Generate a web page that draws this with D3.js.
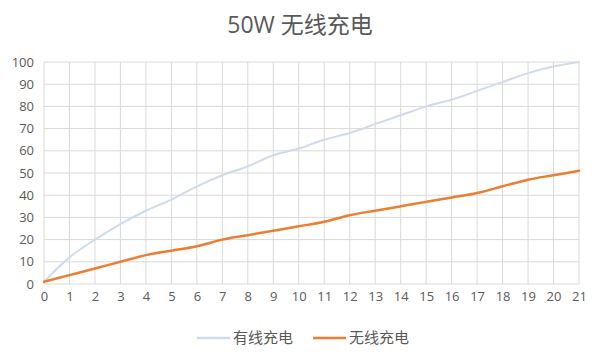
<!DOCTYPE html>
<html>
<head>
<meta charset="utf-8">
<script src="https://cdn.jsdelivr.net/npm/d3@7"></script>
<style>
  body { margin: 0; background: #fff; }
  svg { display: block; font-family: "Open Sans", "Noto Sans CJK SC", sans-serif; }
</style>
</head>
<body>
<div id="chart"></div>
<script>
const minutes = d3.range(0, 22);
const wired = [1, 12, 20, 27, 33, 38, 44, 49, 53, 58, 61, 65, 68, 72, 76, 80, 83, 87, 91, 95, 98, 100];
const wireless = [1, 4, 7, 10, 13, 15, 17, 20, 22, 24, 26, 28, 31, 33, 35, 37, 39, 41, 44, 47, 49, 51];
const yTicks = d3.range(0, 101, 10);
const seriesNames = ["有线充电", "无线充电"];
const colors = ["#cfdbeb", "#ed7d31"];

(function() {
  const width = 600, height = 355;
  const margin = { top: 62, right: 21, bottom: 71, left: 44 };
  const innerW = width - margin.left - margin.right;
  const innerH = height - margin.top - margin.bottom;

  const svg = d3.select("#chart").append("svg")
    .attr("width", width).attr("height", height);

  svg.append("text")
    .attr("x", 300).attr("y", 33)
    .attr("text-anchor", "middle")
    .attr("font-size", "23px")
    .attr("fill", "#595959")
    .text("50W 无线充电");

  const g = svg.append("g").attr("transform", `translate(${margin.left},${margin.top})`);

  const x = d3.scaleLinear().domain([0, 21]).range([0, innerW]);
  const y = d3.scaleLinear().domain([0, 100]).range([innerH, 0]);

  // grid
  g.append("g").selectAll("line").data(yTicks).join("line")
    .attr("x1", 0).attr("x2", innerW)
    .attr("y1", d => y(d)).attr("y2", d => y(d))
    .attr("stroke", "#d9d9d9").attr("stroke-width", 1);
  g.append("g").selectAll("line").data(minutes).join("line")
    .attr("x1", d => x(d)).attr("x2", d => x(d))
    .attr("y1", 0).attr("y2", innerH)
    .attr("stroke", "#d9d9d9").attr("stroke-width", 1);

  // axes
  const yAxis = g.append("g").call(d3.axisLeft(y).tickValues(yTicks).tickSize(0).tickPadding(10));
  const xAxis = g.append("g").attr("transform", `translate(0,${innerH})`)
    .call(d3.axisBottom(x).tickValues(minutes).tickSize(0).tickPadding(8));
  [xAxis, yAxis].forEach(a => {
    a.select(".domain").remove();
    a.selectAll("text").attr("fill", "#595959").attr("font-size", "13px")
      .attr("font-family", "Open Sans, sans-serif");
  });

  const line = d3.line().x((d, i) => x(minutes[i])).y(d => y(d)).curve(d3.curveCatmullRom);
  [wired, wireless].forEach((s, i) => {
    g.append("path").datum(s)
      .attr("fill", "none")
      .attr("stroke", colors[i])
      .attr("stroke-width", i === 0 ? 2 : 2.5)
      .attr("stroke-linecap", "round")
      .attr("d", line);
  });

  // legend
  const legend = svg.append("g").attr("transform", "translate(0,338)");
  const lx = [197, 313];
  seriesNames.forEach((name, i) => {
    legend.append("line")
      .attr("x1", lx[i]).attr("x2", lx[i] + 33)
      .attr("stroke", colors[i]).attr("stroke-width", 2.5);
    legend.append("text")
      .attr("x", lx[i] + 36).attr("y", 5)
      .attr("font-size", "15px").attr("fill", "#595959")
      .text(name);
  });
})();
</script>
</body>
</html>
